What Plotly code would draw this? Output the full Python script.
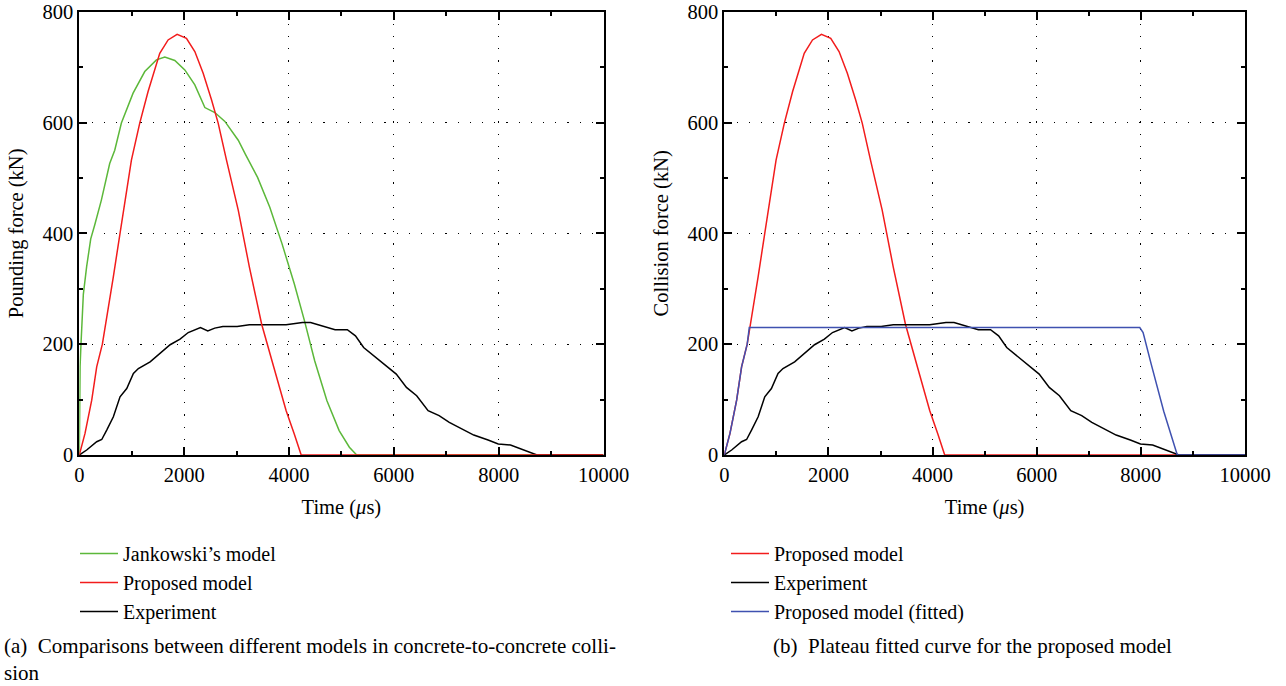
import plotly.graph_objects as go

W, H = 1286, 686

# ---- data (time in microseconds, force in kN) ----
t_exp = [0, 141, 332, 428, 523, 650, 777, 905, 1032, 1127, 1351, 1542, 1733, 1922, 2078, 2311, 2451, 2584, 2739, 3012,
         3245, 3945, 4257, 4412, 4646, 4879, 5113, 5268, 5424, 5735, 6047, 6241, 6436, 6654, 6864, 7058, 7292, 7525,
         7798, 7992, 8226, 8459, 8731, 10000]
f_exp = [0, 9, 24, 28, 45, 69, 105, 120, 147, 156, 168, 183, 199, 209, 221, 230, 224, 229, 232, 232,
         235, 235, 239, 239, 232, 226, 226, 215, 194, 170, 146, 122, 107, 80, 71, 59, 47, 36,
         27, 20, 18, 10, 0, 0]

t_prop = [0, 109, 237, 332, 440, 554, 650, 777, 873, 994, 1153, 1312, 1535, 1694, 1866, 2044, 2204, 2363, 2522, 2649,
          2808, 2936, 3032, 3245, 3479, 3712, 3946, 4101, 4233, 10000]
f_prop = [0, 39, 99, 159, 200, 262, 322, 400, 460, 532, 599, 656, 725, 749, 759, 752, 728, 689, 641, 599,
          532, 478, 442, 339, 236, 158, 80, 38, 0, 0]

t_jan = [0, 5, 15, 32, 77, 140, 218, 294, 421, 580, 676, 803, 1026, 1249, 1471, 1631, 1822, 2013, 2204, 2395,
         2586, 2777, 3032, 3167, 3401, 3634, 3868, 4101, 4296, 4490, 4724, 4957, 5152, 5292, 10000]
f_jan = [0, 100, 160, 200, 290, 340, 390, 415, 460, 526, 550, 599, 653, 692, 713, 718, 712, 695, 668, 627,
         618, 602, 568, 543, 501, 447, 381, 309, 242, 170, 98, 44, 14, 0, 0]

t_fit = [0, 109, 237, 332, 440, 480, 7979, 8043, 8201, 8439, 8700, 10000]
f_fit = [0, 39, 99, 159, 200, 230, 230, 221, 163, 79, 0, 0]

x_ticks = [0, 2000, 4000, 6000, 8000, 10000]
y_ticks = [0, 200, 400, 600, 800]

GREEN = "#5cb83a"
RED = "#f21c1c"
BLACK = "#000000"
BLUE = "#3f51b0"
FONT = "Liberation Serif"


def px(x):
    return x / W


def py(y):
    return 1 - y / H


fig = go.Figure()

# left panel
fig.add_trace(go.Scatter(x=t_jan, y=f_jan, mode="lines", name="Jankowski’s model",
                         line=dict(color=GREEN, width=1.5), xaxis="x", yaxis="y", legend="legend", legendrank=1))
fig.add_trace(go.Scatter(x=t_exp, y=f_exp, mode="lines", name="Experiment",
                         line=dict(color=BLACK, width=1.5), xaxis="x", yaxis="y", legend="legend", legendrank=3))
fig.add_trace(go.Scatter(x=t_prop, y=f_prop, mode="lines", name="Proposed model",
                         line=dict(color=RED, width=1.5), xaxis="x", yaxis="y", legend="legend", legendrank=2))

# right panel
fig.add_trace(go.Scatter(x=t_prop, y=f_prop, mode="lines", name="Proposed model",
                         line=dict(color=RED, width=1.5), xaxis="x2", yaxis="y2", legend="legend2", legendrank=1))
fig.add_trace(go.Scatter(x=t_exp, y=f_exp, mode="lines", name="Experiment",
                         line=dict(color=BLACK, width=1.5), xaxis="x2", yaxis="y2", legend="legend2", legendrank=2))
fig.add_trace(go.Scatter(x=t_fit, y=f_fit, mode="lines", name="Proposed model (fitted)",
                         line=dict(color=BLUE, width=1.5), xaxis="x2", yaxis="y2", legend="legend2", legendrank=3))

tickfont = dict(family=FONT, size=20.5, color="black")
titlefont = dict(family=FONT, size=20.5, color="black")
LEG = 20
CAP = 21


def axis_style(minor_dtick, **kw):
    d = dict(showline=True, linecolor="black", linewidth=2, mirror="allticks",
             ticks="inside", ticklen=8, tickwidth=1.5, tickcolor="black",
             showgrid=True, gridcolor="black", gridwidth=1.2, griddash="1.2px,11px",
             zeroline=False, tickfont=tickfont, tickformat="d", automargin=False,
             ticklabeloverflow="allow",
             minor=dict(ticks="inside", ticklen=4, tickwidth=1.5, tickcolor="black",
                        dtick=minor_dtick, tick0=0, showgrid=False))
    d.update(kw)
    return d


ydom = [py(455), py(11.7)]
xl = [px(79.3), px(603.5)]
xr = [px(724.3), px(1245)]

fig.update_layout(
    width=W, height=H,
    margin=dict(l=0, r=0, t=0, b=0, autoexpand=False),
    paper_bgcolor="white", plot_bgcolor="white",
    font=dict(family=FONT, size=LEG, color="black"),
    xaxis=axis_style(1000, domain=xl, range=[0, 10000], tickvals=x_ticks, anchor="y",
                     title=dict(text="Time (<i>μ</i>s)", font=titlefont, standoff=15)),
    yaxis=axis_style(100, domain=ydom, range=[0, 800], tickvals=y_ticks, anchor="x",
                     title=dict(text="Pounding force (kN)", font=titlefont, standoff=13)),
    xaxis2=axis_style(1000, domain=xr, range=[0, 10000], tickvals=x_ticks, anchor="y2",
                      title=dict(text="Time (<i>μ</i>s)", font=titlefont, standoff=15)),
    yaxis2=axis_style(100, domain=ydom, range=[0, 800], tickvals=y_ticks, anchor="x2",
                      title=dict(text="Collision force (kN)", font=titlefont, standoff=13)),
    legend=dict(x=px(75), y=py(534), xanchor="left", yanchor="top", xref="paper", yref="paper",
                font=dict(family=FONT, size=LEG, color="black"), bgcolor="rgba(0,0,0,0)",
                itemwidth=38, tracegroupgap=0),
    legend2=dict(x=px(726), y=py(534), xanchor="left", yanchor="top", xref="paper", yref="paper",
                 font=dict(family=FONT, size=LEG, color="black"), bgcolor="rgba(0,0,0,0)",
                 itemwidth=38, tracegroupgap=0),
    annotations=[
        dict(text="(a)  Comparisons between different models in concrete-to-concrete colli-<br>sion",
             x=px(2), y=py(687), xref="paper", yref="paper", xanchor="left", yanchor="bottom",
             align="left", showarrow=False, font=dict(family=FONT, size=CAP, color="black")),
        dict(text="(b)  Plateau fitted curve for the proposed model",
             x=px(771), y=py(646), xref="paper", yref="paper", xanchor="left", yanchor="middle",
             showarrow=False, font=dict(family=FONT, size=CAP, color="black")),
    ],
)

# remove the browser's default 8px page margin so the figure fills the window exactly
fig.write_html("out.html", config={"displayModeBar": False},
               post_script="document.body.style.margin='0px';")
